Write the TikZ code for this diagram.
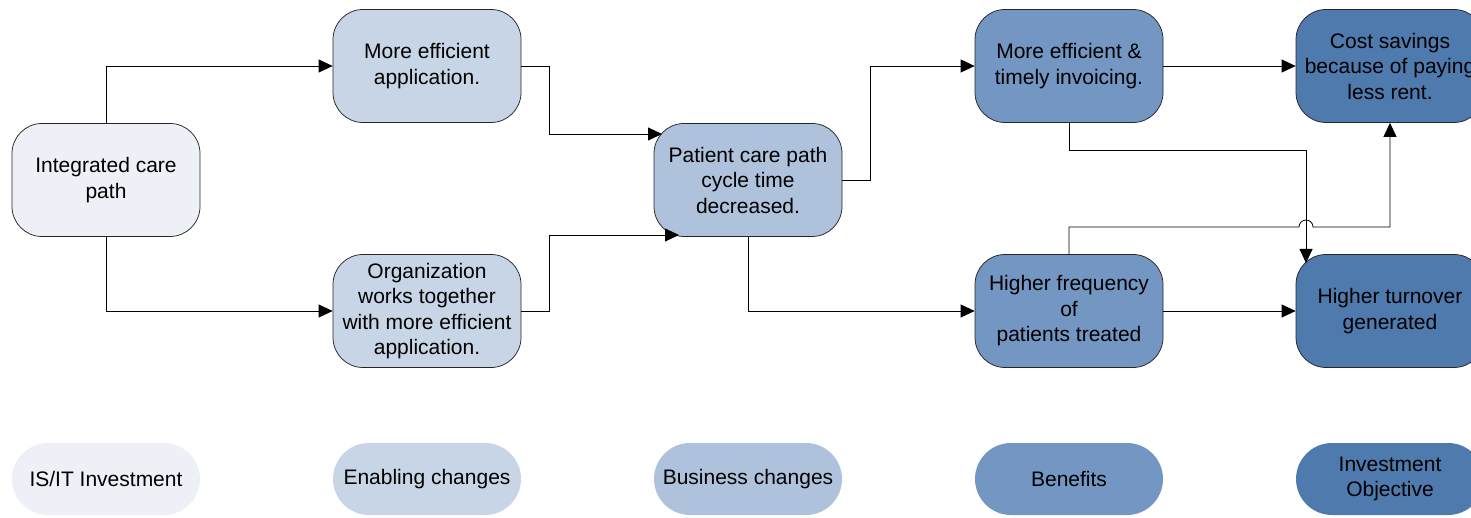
\documentclass[tikz,border=0pt]{standalone}
\usepackage{fontspec}
\setmainfont{Liberation Sans}
\usetikzlibrary{arrows.meta}

\definecolor{lvlA}{HTML}{EDF0F6}
\definecolor{lvlB}{HTML}{C8D5E6}
\definecolor{lvlC}{HTML}{AFC2DC}
\definecolor{lvlD}{HTML}{7396C2}
\definecolor{lvlE}{HTML}{4F7AAE}

\tikzset{
  box/.style={rectangle, rounded corners=30pt, draw=black!85, line width=0.75pt,
    minimum width=188pt, minimum height=113pt, inner sep=2pt, align=center,
    font=\fontsize{21}{25.5}\selectfont},
  pill/.style={rectangle, rounded corners=36pt, minimum width=188pt,
    minimum height=72pt, inner sep=2pt, align=center,
    font=\fontsize{21}{25.5}\selectfont},
  link/.style={draw=black, line width=0.8pt, -{Triangle[length=14pt,width=13pt]}},
}

\begin{document}
\begin{tikzpicture}[x=1pt,y=1pt]
  \useasboundingbox (0,0) rectangle (1471,-518);
  \clip (0,0) rectangle (1471,-518);

  % main chain
  \node[box, fill=lvlA] (icp) at (106,-180) {Integrated care\\path};
  \node[box, fill=lvlB] (mea) at (427,-66) {More efficient\\application.};
  \node[box, fill=lvlB] (org) at (427,-311) {Organization\\works together\\with more efficient\\application.};
  \node[box, fill=lvlC] (pcp) at (748,-180) {Patient care path\\cycle time\\decreased.};
  \node[box, fill=lvlD] (inv) at (1069,-66) {More efficient \&\\timely invoicing.};
  \node[box, fill=lvlD] (hfp) at (1069,-311) {Higher frequency\\of\\patients treated};
  \node[box, fill=lvlE] (cst) at (1390,-66) {Cost savings\\because of paying\\less rent.};
  \node[box, fill=lvlE] (trn) at (1390,-311) {Higher turnover\\generated};

  % legend
  \node[pill, fill=lvlA] (lgA) at (106,-479) {IS/IT Investment};
  \node[pill, fill=lvlB] (lgB) at (427,-479) {Enabling changes};
  \node[pill, fill=lvlC] (lgC) at (748,-479) {Business changes};
  \node[pill, fill=lvlD] (lgD) at (1069,-479) {Benefits};
  \node[pill, fill=lvlE] (lgE) at (1390,-479) {Investment\\Objective};

  % entry points on the rounded corners
  \coordinate (pcpinA) at (662,-134);
  \coordinate (pcpinB) at (679,-235);
  \coordinate (trnin) at (1306,-263);
  \coordinate (hop) at (1299,-227);

  % connectors
  \draw[link] (icp.north) |- (mea.west);
  \draw[link] (icp.south) |- (org.west);
  \draw[link] (mea.east) -- ++(28,0) |- (pcpinA);
  \draw[link] (org.east) -- ++(28,0) |- (pcpinB);
  \draw[link] (pcp.east) -- ++(28,0) |- (inv.west);
  \draw[link] (pcp.south) |- (hfp.west);
  \draw[link] (inv.east) -- (cst.west);
  \draw[link] (hfp.east) -- (trn.west);
  \draw[link] (inv.south) -- ++(0,-28) -| (trnin);
  \draw[link] (hfp.north) |- (hop) arc[start angle=180, end angle=0, radius=7pt]
     -| (cst.south);
\end{tikzpicture}
\end{document}
